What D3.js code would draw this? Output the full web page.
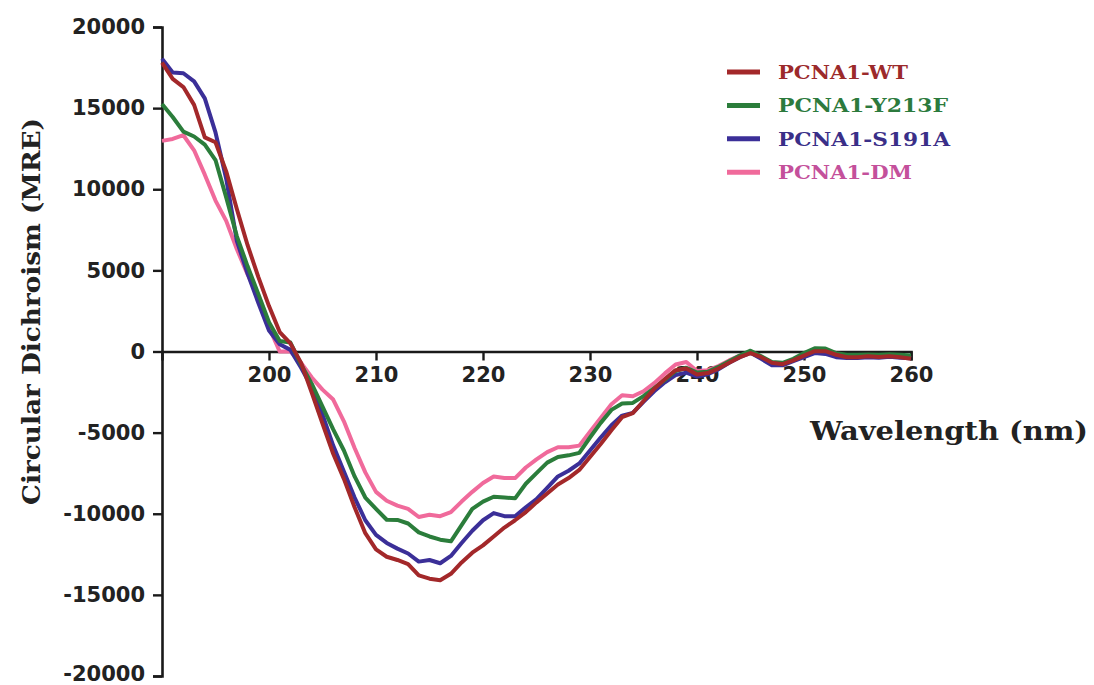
<!DOCTYPE html>
<html>
<head>
<meta charset="utf-8">
<script src="https://cdn.jsdelivr.net/npm/d3@7"></script>
<style>
	body {margin: 0; background: #fff;}
	svg {display: block;}
</style>
</head>
<body>
<svg id="chart" width="1094" height="685"></svg>
<script>
(function() {
	'use strict';

	// wavelengths, 1 nm steps from 190 to 260
	var wavelengths = d3.range(190, 261);

	var seriesNames = ['PCNA1-WT', 'PCNA1-Y213F', 'PCNA1-S191A', 'PCNA1-DM'];

	var wtValues = [
		17800, 16800, 16300, 15200, 13200, 12900, 11100, 8770, 6550, 4600,
		2800, 1200, 500, -700, -2550, -4450, -6300, -7850, -9600, -11200,
		-12200, -12650, -12850, -13100, -13800, -14000, -14100, -13700, -13000, -12400,
		-11950, -11400, -10850, -10400, -9900, -9300, -8750, -8200, -7800, -7300,
		-6500, -5700, -4850, -4050, -3800, -3050, -2300, -1700, -1150, -1050,
		-1420, -1330, -1050, -700, -350, -100, -350, -700, -780, -550,
		-250, 20, 20, -200, -350, -350, -290, -340, -300, -350,
		-450];

	var y213fValues = [
		15250, 14450, 13550, 13250, 12750, 11800, 9500, 7100, 5250, 3550,
		1800, 650, 550, -800, -2000, -3400, -4800, -6100, -7700, -9000,
		-9700, -10370, -10380, -10600, -11150, -11400, -11600, -11700, -10700, -9700,
		-9250, -8950, -9000, -9050, -8150, -7500, -6850, -6500, -6400, -6250,
		-5300, -4400, -3600, -3200, -3170, -2750, -2250, -1750, -1200, -1000,
		-1300, -1250, -950, -600, -250, 50, -300, -650, -700, -450,
		-100, 200, 180, -100, -200, -200, -180, -200, -170, -200,
		-250];

	var s191aValues = [
		18050, 17200, 17150, 16650, 15600, 13500, 10650, 6800, 4800, 3000,
		1300, 450, 100, -1000, -2200, -3900, -5800, -7400, -9000, -10400,
		-11300, -11800, -12150, -12450, -12950, -12850, -13050, -12600, -11800, -11050,
		-10400, -9960, -10150, -10150, -9600, -9100, -8400, -7700, -7350, -6900,
		-6100, -5300, -4550, -3950, -3780, -3100, -2450, -1900, -1450, -1300,
		-1550, -1400, -1100, -700, -350, -80, -450, -850, -850, -600,
		-350, -100, -150, -350, -400, -400, -350, -380, -330, -380,
		-420];

	var dmValues = [
		12980, 13100, 13330, 12400, 10900, 9300, 8050, 6300, 4750, 3400,
		1500, 0, 0, -700, -1600, -2350, -2960, -4300, -5950, -7450,
		-8650, -9200, -9500, -9700, -10200, -10060, -10150, -9900, -9250, -8650,
		-8100, -7700, -7800, -7800, -7150, -6650, -6200, -5900, -5900, -5800,
		-4950, -4100, -3250, -2700, -2760, -2450, -1950, -1350, -800, -650,
		-1200, -1150, -900, -550, -250, -50, -350, -700, -750, -500,
		-250, 50, 50, -200, -300, -300, -250, -300, -270, -300,
		-380];

	var xTicks = [200, 210, 220, 230, 240, 250, 260];
	var yTicks = [-20000, -15000, -10000, -5000, 0, 5000, 10000, 15000, 20000];

	var lineColors = {
		'PCNA1-WT': '#a3282a', 'PCNA1-Y213F': '#2b7d3b',
		'PCNA1-S191A': '#3b2f98', 'PCNA1-DM': '#f06a9b'};
	var textColors = {
		'PCNA1-WT': '#9c2a2b', 'PCNA1-Y213F': '#2c7a3d',
		'PCNA1-S191A': '#3a2f88', 'PCNA1-DM': '#c4509b'};
	// widths of the legend labels as they appear in the figure
	var legendWidths = {
		'PCNA1-WT': 130, 'PCNA1-Y213F': 170, 'PCNA1-S191A': 172, 'PCNA1-DM': 134};

	var series = [
		{name: 'PCNA1-WT', values: wtValues},
		{name: 'PCNA1-Y213F', values: y213fValues},
		{name: 'PCNA1-S191A', values: s191aValues},
		{name: 'PCNA1-DM', values: dmValues}];

	var svg = d3.select('#chart');
	var tickFont = '"DejaVu Sans", sans-serif';
	var titleFont = '"DejaVu Serif", serif';

	var x = d3.scaleLinear().domain([190, 260]).range([162, 911]);
	var y = d3.scaleLinear().domain([-20000, 20000]).range([676, 27]);

	// plain hyphen for negatives, as in the figure
	function fmt(v) {return String(v);}

	// x axis sits on zero
	var xAxisG = svg.append('g')
		.attr('transform', 'translate(0,' + y(0) + ')');
	xAxisG.call(d3.axisBottom(x).tickValues(d3.range(192, 261, 2)).tickSize(5).tickFormat(''));
	xAxisG.call(d3.axisBottom(x).tickValues(xTicks).tickSize(9).tickPadding(7).tickFormat(fmt));

	var yAxisG = svg.append('g')
		.attr('transform', 'translate(' + x(190) + ',0)');
	yAxisG.call(d3.axisLeft(y).tickValues(d3.range(-20000, 20001, 1000)).tickSize(5).tickFormat(''));
	yAxisG.call(d3.axisLeft(y).tickValues(yTicks).tickSize(9).tickPadding(8).tickFormat(fmt));

	svg.selectAll('.domain')
		.attr('stroke', '#1a1a1a')
		.attr('stroke-width', 2.6);
	svg.selectAll('.tick line')
		.attr('stroke', '#1a1a1a')
		.attr('stroke-width', 2.4);
	svg.selectAll('.tick text')
		.style('font-family', tickFont)
		.style('font-weight', 'bold')
		.style('font-size', '21px')
		.attr('fill', '#222');
	// keep the lowest label inside the frame
	yAxisG.selectAll('.tick text')
		.filter(function(d) {return d === -20000;})
		.attr('dy', '0.2em');

	// curves
	var line = d3.line()
		.x(function(d, i) {return x(wavelengths[i]);})
		.y(function(d) {return y(d);});

	var drawOrder = ['PCNA1-DM', 'PCNA1-S191A', 'PCNA1-Y213F', 'PCNA1-WT'];
	drawOrder.forEach(function(name) {
		var s = series.filter(function(d) {return d.name === name;})[0];
		svg.append('path')
			.datum(s.values)
			.attr('fill', 'none')
			.attr('stroke', lineColors[name])
			.attr('stroke-width', 4)
			.attr('stroke-linejoin', 'round')
			.attr('d', line);
	});

	// axis titles
	svg.append('text')
		.attr('x', 810)
		.attr('y', 440)
		.attr('textLength', 278)
		.attr('lengthAdjust', 'spacingAndGlyphs')
		.style('font-family', titleFont)
		.style('font-weight', 'bold')
		.style('font-size', '26px')
		.attr('fill', '#222')
		.text('Wavelength (nm)');

	svg.append('text')
		.attr('transform', 'translate(40,505)rotate(-90)')
		.attr('textLength', 387)
		.attr('lengthAdjust', 'spacingAndGlyphs')
		.style('font-family', titleFont)
		.style('font-weight', 'bold')
		.style('font-size', '25px')
		.attr('fill', '#222')
		.text('Circular Dichroism (MRE)');

	// legend
	var legend = svg.append('g').attr('transform', 'translate(727,72)');
	var rows = legend.selectAll('.row').data(series)
		.enter().append('g').attr('class', 'row')
		.attr('transform', function(d, i) {return 'translate(0,' + (i * 33.4) + ')';});
	rows.append('line')
		.attr('x1', 0).attr('x2', 33)
		.attr('stroke', function(d) {return lineColors[d.name];})
		.attr('stroke-width', 5);
	rows.append('text')
		.attr('x', 51)
		.attr('y', 7)
		.attr('textLength', function(d) {return legendWidths[d.name];})
		.attr('lengthAdjust', 'spacingAndGlyphs')
		.style('font-family', titleFont)
		.style('font-weight', 'bold')
		.style('font-size', '19px')
		.attr('fill', function(d) {return textColors[d.name];})
		.text(function(d) {return d.name;});
})();
</script>
</body>
</html>
